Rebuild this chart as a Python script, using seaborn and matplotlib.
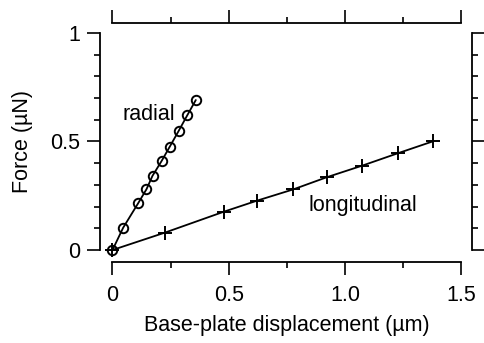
import numpy as np
import pandas as pd
import seaborn as sns
import matplotlib.pyplot as plt

# --- data ---
radial_x = [0.0, 0.046, 0.110, 0.146, 0.172, 0.211, 0.246, 0.285, 0.322, 0.358]
radial_y = [0.0, 0.103, 0.215, 0.280, 0.342, 0.410, 0.476, 0.550, 0.622, 0.691]

long_x = [0.0, 0.225, 0.480, 0.623, 0.776, 0.920, 1.074, 1.227, 1.378]
long_y = [0.0, 0.080, 0.177, 0.228, 0.279, 0.335, 0.389, 0.446, 0.501]

x_ticks = [0, 0.5, 1.0, 1.5]
x_ticklabels = ["0", "0.5", "1.0", "1.5"]
x_minor = [0.25, 0.75, 1.25]
y_ticks = [0, 0.5, 1]
y_ticklabels = ["0", "0.5", "1"]
y_minor = [0.1, 0.2, 0.3, 0.4, 0.6, 0.7, 0.8, 0.9]

sns.set_style("ticks")
plt.rcParams['font.family'] = ['Liberation Sans', 'DejaVu Sans']
plt.rcParams.update({"text.color": "black", "axes.labelcolor": "black",
                     "xtick.color": "black", "ytick.color": "black"})
fs = 15.5

fig = plt.figure(figsize=(4.85, 3.43), dpi=100)
ax = fig.add_axes([112.5 / 485, 93 / 343, 349 / 485, 217 / 343])

df_r = pd.DataFrame({"x": radial_x, "y": radial_y})
df_l = pd.DataFrame({"x": long_x, "y": long_y})

sns.lineplot(data=df_r, x="x", y="y", sort=False, color="black", lw=1.3,
             marker="o", markersize=6.8, markerfacecolor="none",
             markeredgecolor="black", markeredgewidth=1.4, clip_on=False, ax=ax)
sns.lineplot(data=df_l, x="x", y="y", sort=False, color="black", lw=1.3,
             marker="+", markersize=9.5, markeredgecolor="black",
             markeredgewidth=1.4, clip_on=False, ax=ax)

ax.set_xlim(0, 1.5)
ax.set_ylim(0, 1)

# detached Igor-style axes on all four sides
ax.spines["left"].set_position(("outward", 9))
ax.spines["bottom"].set_position(("outward", 8.4))
ax.spines["top"].set_position(("outward", 7.2))
ax.spines["right"].set_position(("outward", 7.5))
for s in ["left", "right"]:
    ax.spines[s].set_bounds(0, 1)
for s in ["top", "bottom"]:
    ax.spines[s].set_bounds(0, 1.5)
for s in ax.spines.values():
    s.set_visible(True)
    s.set_linewidth(1.3)
    s.set_color("black")

ax.set_xticks(x_ticks)
ax.set_xticklabels(x_ticklabels)
ax.set_xticks(x_minor, minor=True)
ax.set_yticks(y_ticks)
ax.set_yticklabels(y_ticklabels)
ax.set_yticks(y_minor, minor=True)

ax.tick_params(which="both", direction="out", top=True, right=True,
               labeltop=False, labelright=False, color="black",
               labelcolor="black", width=1.2)
ax.tick_params(which="major", length=9.5, labelsize=fs)
ax.tick_params(which="minor", length=4.5)
ax.tick_params(axis="x", which="major", pad=7)
ax.tick_params(axis="y", which="major", pad=5)

ax.set_xlabel("Base-plate displacement (µm)", fontsize=fs, color="black")
ax.set_ylabel("Force (µN)", fontsize=fs, color="black")
ax.xaxis.set_label_coords(0.5, -0.35)
ax.xaxis.label.set_va("center")
ax.yaxis.set_label_coords(-0.2565, 0.5)
ax.yaxis.label.set_va("center")

ax.text(0.155, 0.60, "radial", fontsize=fs, ha="center", va="baseline", color="black")
ax.text(1.076, 0.182, "longitudinal", fontsize=fs, ha="center", va="baseline", color="black")

fig.savefig("out.png", dpi=100)
